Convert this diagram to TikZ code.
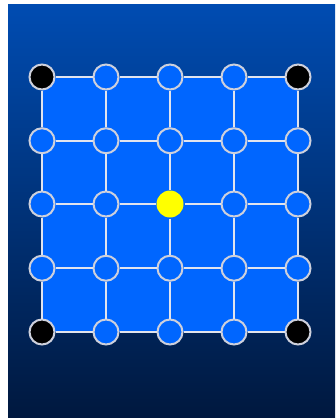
\documentclass[tikz,border=0pt]{standalone}
\usepackage{xcolor}
\definecolor{gridblue}{RGB}{0,102,255}
\definecolor{skytop}{RGB}{0,76,178}
\definecolor{skybottom}{RGB}{0,24,62}
\definecolor{rimgrey}{RGB}{205,208,220}
\definecolor{linkgrey}{RGB}{225,228,238}
\definecolor{hubyellow}{RGB}{255,255,0}

\begin{document}
\begin{tikzpicture}[
  x=1pt, y=-1pt,
  dot/.style={circle, draw=rimgrey, line width=2pt, fill=gridblue,
              minimum size=25pt, inner sep=0pt},
  corner/.style={dot, fill=black},
  hub/.style={dot, draw=none, fill=hubyellow, minimum size=27pt},
  link/.style={draw=linkgrey, line width=2pt}
]
  % frame and backdrop
  \fill[white] (0,0) rectangle (335,418);
  \useasboundingbox (0,0) rectangle (335,418);
  \shade[top color=skytop, bottom color=skybottom] (8,4) rectangle (335,418);
  \fill[gridblue] (42,77) rectangle (298,332);

  % lattice nodes
  \foreach \i/\kind in {1/corner,2/dot,3/dot,4/dot,5/corner}
    \node[\kind] (n-\i-1) at (42+64*\i-64, 77) {};
  \foreach \i/\kind in {1/corner,2/dot,3/dot,4/dot,5/corner}
    \node[\kind] (n-\i-5) at (42+64*\i-64, 332) {};
  \foreach \i/\kind in {1/dot,2/dot,3/hub,4/dot,5/dot}
    \node[\kind] (n-\i-3) at (42+64*\i-64, 204) {};
  \foreach \j in {2,4}
    \foreach \i in {1,...,5}
      \node[dot] (n-\i-\j) at (42+64*\i-64, 77+63.75*\j-63.75) {};

  % links
  \foreach \i in {1,...,5}
    \foreach \j in {1,...,4} {
      \pgfmathtruncatemacro\k{\j+1}
      \draw[link] (n-\i-\j) -- (n-\i-\k);
      \draw[link] (n-\j-\i) -- (n-\k-\i);
    }
\end{tikzpicture}
\end{document}
